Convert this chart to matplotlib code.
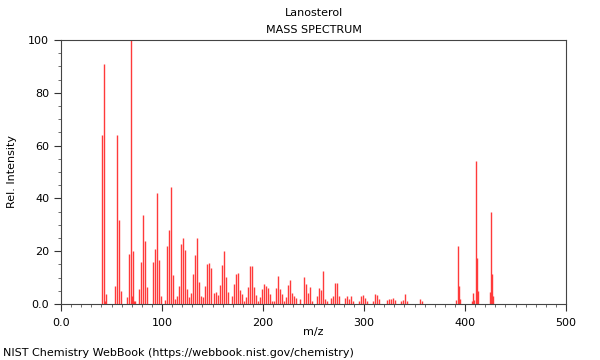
import matplotlib
matplotlib.use("Agg")
import matplotlib.pyplot as plt
from matplotlib.ticker import MultipleLocator, FixedLocator

title = "Lanosterol"
subtitle = "MASS SPECTRUM"
xlabel = "m/z"
ylabel = "Rel. Intensity"
footer = "NIST Chemistry WebBook (https://webbook.nist.gov/chemistry)"

mz = [41, 43, 44, 45, 53, 55, 57, 59, 65, 67, 69, 70, 71, 72, 73, 77, 79, 81, 83, 85,
      91, 93, 95, 97, 99, 103, 105, 107, 109, 111, 113, 115, 117, 119, 121, 123, 125,
      127, 129, 131, 133, 135, 137, 139, 141, 143, 145, 147, 149, 151, 153, 155, 157,
      159, 161, 163, 165, 169, 171, 173, 175, 177, 179, 181, 183, 185, 187, 189, 191,
      193, 195, 197, 199, 201, 203, 205, 207, 209, 211, 213, 215, 217, 219, 221, 223,
      225, 227, 229, 231, 233, 237, 241, 243, 245, 247, 249, 253, 255, 257, 259, 261,
      263, 267, 269, 271, 273, 275, 281, 283, 285, 287, 289, 295, 297, 299, 301, 303,
      309, 311, 313, 315, 323, 325, 327, 329, 331, 337, 339, 341, 343, 355, 357,
      391, 393, 394, 395, 407, 408, 409, 411, 412, 413, 425, 426, 427, 428]
intensity = [64, 91, 1, 3.7, 7, 64, 32, 5, 2.5, 19, 100, 3, 20, 1, 1, 5.6, 16, 33.7, 24, 6.4,
             16, 21, 42, 16.5, 3, 1.5, 22, 28, 44.4, 11, 2, 3, 7, 22.7, 25, 20.5, 5.7,
             2.6, 4, 11.4, 18.6, 25, 8.3, 3, 2.6, 7, 15, 15.5, 13.6, 4, 4.5, 3.4, 7.3,
             14.8, 20, 10.3, 4.5, 3, 7.7, 11.4, 11.7, 5.3, 3.8, 1.3, 2.8, 6.6, 14.4, 14.4, 6.4,
             3.4, 1, 2.8, 5.8, 7.6, 7, 6, 3.8, 1.3, 1, 6.1, 10.6, 5.7, 3.8, 1, 2.8,
             7.2, 9.1, 4.3, 2.9, 2.2, 2, 10.1, 7.4, 4.3, 6.5, 1, 3, 6, 5.4, 12.5, 1.9,
             1, 2.3, 3.2, 8, 8, 3.2, 2.4, 3.2, 2, 3, 1.2, 1.2, 3, 3.4, 2.4, 1,
             1.2, 3.8, 3.4, 2, 1.5, 2, 2, 2.3, 1.5, 1.2, 1.5, 3.7, 1, 1.9, 1,
             1.5, 22, 7, 2, 1, 4, 1.5, 54, 17.5, 5, 4.5, 35, 11.5, 3]

xticks = [0, 100, 200, 300, 400, 500]
xticklabels = ["0.0", "100", "200", "300", "400", "500"]
yticks = [0, 20, 40, 60, 80, 100]
yticklabels = ["0.0", "20", "40", "60", "80", "100"]

fig = plt.figure(figsize=(6, 3.6), dpi=100)
ax = fig.add_axes([61 / 600, 1 - 304 / 360, 505 / 600, 264 / 360])
ax.vlines(mz, 0, intensity, colors="#ff3a3a", linewidth=1.0)
ax.set_xlim(0, 500)
ax.set_ylim(0, 100)

ax.xaxis.set_major_locator(FixedLocator(xticks))
ax.set_xticklabels(xticklabels)
ax.yaxis.set_major_locator(FixedLocator(yticks))
ax.set_yticklabels(yticklabels)
ax.xaxis.set_minor_locator(MultipleLocator(10))
ax.yaxis.set_minor_locator(MultipleLocator(5))
ax.tick_params(which="major", direction="out", length=5, width=0.8, labelsize=8, colors="#333333", labelcolor="black")
ax.tick_params(which="minor", direction="out", length=2.5, width=0.6, colors="#555555")
ax.tick_params(axis="x", which="major", pad=5)
for s in ax.spines.values():
    s.set_color("#444444")
    s.set_linewidth(0.8)

ax.set_xlabel(xlabel, fontsize=8, labelpad=-0.5)
ax.set_ylabel(ylabel, fontsize=8, labelpad=8)
fig.text(0.5225, 1 - 13 / 360, title, ha="center", va="center", fontsize=8)
fig.text(0.5225, 1 - 30 / 360, subtitle, ha="center", va="center", fontsize=8)
fig.text(3 / 600, 1 - 353 / 360, footer, ha="left", va="center", fontsize=8)

fig.savefig("out.png", dpi=100)
